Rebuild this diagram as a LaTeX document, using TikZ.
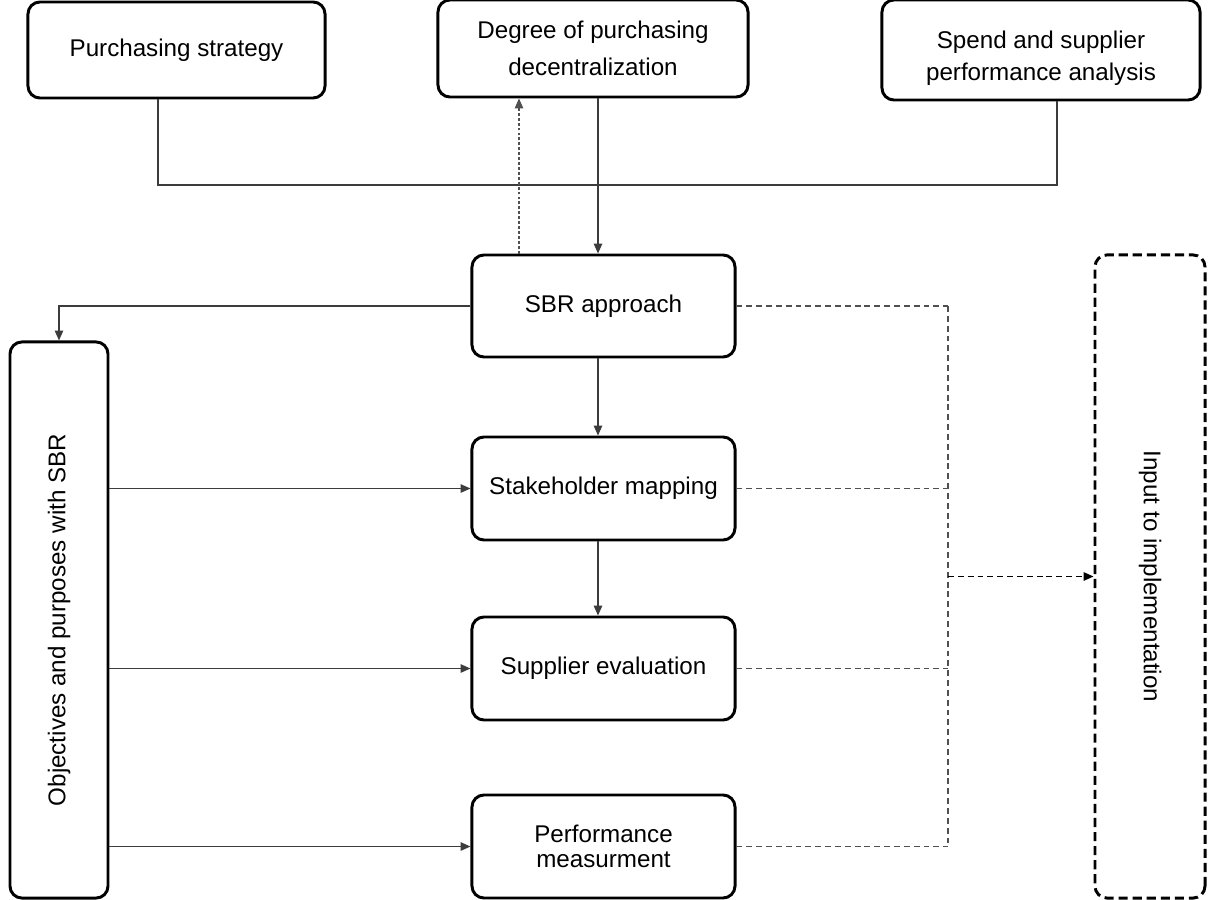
\documentclass[tikz,border=0pt]{standalone}
\usepackage{fontspec}
\setmainfont{Liberation Sans}
\usetikzlibrary{arrows.meta}
\definecolor{linegray}{HTML}{3C3C3C}
\definecolor{dashgray}{HTML}{505050}
\tikzset{
  box/.style={draw=black, line width=2.1pt, rounded corners=0.3cm, fill=white,
              align=center, inner sep=2pt, font=\fontsize{17.2}{24}\selectfont},
  ghostbox/.style={box, dash pattern=on 6.5pt off 3.5pt},
  link/.style={draw=linegray, line width=0.9pt},
  flow/.style={link, -{Triangle[length=7pt,width=6pt]}},
  feedback/.style={draw=dashgray, line width=0.8pt, dash pattern=on 2pt off 1.5pt,
                   -{Triangle[length=7pt,width=6pt]}},
  collect/.style={draw=dashgray, line width=0.8pt, dash pattern=on 4.2pt off 2.8pt},
  collectarrow/.style={draw=black, line width=0.9pt, dash pattern=on 4.2pt off 2.8pt,
                       -{Triangle[length=7pt,width=6pt]}}
}
\begin{document}
\begin{tikzpicture}[x=0.025cm, y=-0.025cm]
\useasboundingbox (0,0) rectangle (1210,900);

% top row
\node[box, minimum width=7.425cm, minimum height=2.4cm] (ps) at (176.5,50) {Purchasing strategy};
\node[box, minimum width=7.75cm, minimum height=2.425cm] (dd) at (593,48.5) {Degree of purchasing\\[2pt]decentralization};
\node[box, minimum width=7.95cm, minimum height=2.5cm] (sp) at (1041,50)
  {\rule{0pt}{24pt}Spend and supplier\\[-1pt]performance analysis};

% central column
\node[box, minimum width=6.575cm, minimum height=2.55cm] (sbr) at (603.5,306) {SBR approach};
\node[box, minimum width=6.575cm, minimum height=2.575cm] (sm) at (603.5,488.5) {Stakeholder mapping};
\node[box, minimum width=6.575cm, minimum height=2.575cm] (se) at (603.5,668.5) {Supplier evaluation};
\node[box, minimum width=6.575cm, minimum height=2.575cm] (pm) at (603.5,846.5) {Performance\\[-6pt]measurment};

% side columns
\node[box, minimum width=13.9cm, minimum height=2.45cm, rotate=90] (obj) at (59,620) {Objectives and purposes with SBR};
\node[ghostbox, minimum width=16.075cm, minimum height=2.75cm, rotate=-90] (inp) at (1150,576.5) {Input to implementation};

% routing columns
\coordinate (jl) at (158,185);
\coordinate (jr) at (1057,185);
\coordinate (main) at (598,0);
\coordinate (back) at (519,0);
\coordinate (bus) at (948,0);

% inputs from the top row
\draw[link] (ps.south -| jl) |- (jr) -- (sp.south -| jr);
\draw[flow] (dd.south -| main) -- (sbr.north -| main);
\draw[feedback] (sbr.north -| back) -- (dd.south -| back);

% main sequence
\draw[flow] (sbr.west) -| (obj.east);
\draw[flow] (sbr.south -| main) -- (sm.north -| main);
\draw[flow] (sm.south -| main) -- (se.north -| main);

% objectives feeding each step
\draw[flow] (sm.west -| obj.south) -- (sm.west);
\draw[flow] (se.west -| obj.south) -- (se.west);
\draw[flow] (pm.west -| obj.south) -- (pm.west);

% outputs collected into implementation
\draw[collect] (sbr.east) -- (sbr.east -| bus);
\draw[collect] (sm.east) -- (sm.east -| bus);
\draw[collect] (se.east) -- (se.east -| bus);
\draw[collect] (pm.east) -- (pm.east -| bus);
\draw[collect] (sbr.east -| bus) -- (pm.east -| bus);
\draw[collectarrow] (inp.south -| bus) -- (inp.south);
\end{tikzpicture}
\end{document}
